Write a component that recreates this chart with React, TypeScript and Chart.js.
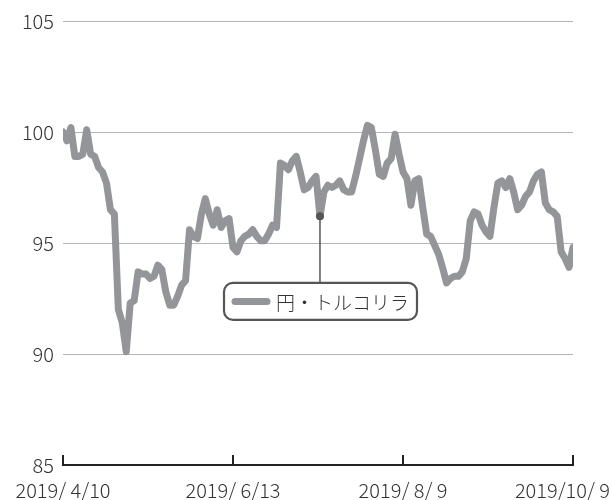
import React, { useEffect, useRef } from "react";
import { Chart, registerables } from "chart.js";

Chart.register(...registerables);

// 円・トルコリラ (index-based trading days)
const seriesName = "円・トルコリラ";
const values: number[] = [
  100.0, 99.6, 100.2, 98.9, 98.9, 99.0, 100.1, 99.0, 98.9, 98.4,
  98.2, 97.7, 96.5, 96.3, 92.0, 91.4, 90.1, 92.3, 92.4, 93.7,
  93.6, 93.6, 93.4, 93.5, 94.0, 93.8, 92.8, 92.2, 92.2, 92.6,
  93.1, 93.3, 95.6, 95.3, 95.2, 96.3, 97.0, 96.3, 95.8, 96.5,
  95.7, 96.0, 96.1, 94.8, 94.6, 95.1, 95.3, 95.4, 95.6, 95.3,
  95.1, 95.1, 95.4, 95.8, 95.7, 98.6, 98.5, 98.3, 98.7, 98.9,
  98.2, 97.4, 97.5, 97.8, 98.0, 96.2, 97.3, 97.6, 97.5, 97.6,
  97.8, 97.4, 97.3, 97.3, 98.0, 98.8, 99.6, 100.3, 100.2, 99.2,
  98.1, 98.0, 98.6, 98.8, 99.9, 99.0, 98.2, 97.9, 96.7, 97.8,
  97.9, 96.6, 95.4, 95.3, 94.9, 94.5, 93.9, 93.2, 93.4, 93.5,
  93.5, 93.7, 94.3, 96.0, 96.4, 96.3, 95.8, 95.5, 95.3, 96.6,
  97.7, 97.8, 97.5, 97.9, 97.3, 96.5, 96.7, 97.1, 97.3, 97.8,
  98.1, 98.2, 96.8, 96.5, 96.4, 96.2, 94.6, 94.3, 93.9, 94.8,
];
const tickIndices: number[] = [0, 43, 86, 129];
const tickLabels: string[] = ["2019/ 4/10", "2019/ 6/13", "2019/ 8/ 9", "2019/10/ 9"];
const yTicks: number[] = [85, 90, 95, 100, 105];
const calloutIndex = 65;

const FONT = "'Noto Sans CJK JP', 'Noto Sans', sans-serif";
const LINE_COLOR = "#939598";
const DARK = "#555555";
const TEXT = "#333333";

const overlayPlugin = {
  id: "overlay",
  afterDraw(chart: any) {
    const ctx = chart.ctx;
    const xs = chart.scales.x;
    const ys = chart.scales.y;
    const area = chart.chartArea;
    ctx.save();
    // x-axis ticks (pointing up) and labels
    ctx.strokeStyle = "#222";
    ctx.lineWidth = 2;
    ctx.font = `300 20px ${FONT}`;
    ctx.fillStyle = TEXT;
    ctx.textBaseline = "middle";
    tickIndices.forEach((ti, k) => {
      const px = Math.round(xs.getPixelForValue(ti));
      ctx.beginPath();
      ctx.moveTo(px, area.bottom + 1);
      ctx.lineTo(px, area.bottom - 10);
      ctx.stroke();
      const label = tickLabels[k];
      if (k === tickIndices.length - 1) {
        ctx.textAlign = "right";
        ctx.fillText(label, chart.width - 2, area.bottom + 25);
      } else {
        ctx.textAlign = "center";
        ctx.fillText(label, px, area.bottom + 25);
      }
    });
    // callout
    const cx = xs.getPixelForValue(calloutIndex);
    const cy = ys.getPixelForValue(values[calloutIndex]);
    const boxTop = ys.getPixelForValue(93.2);
    const boxBottom = boxTop + 37;
    const boxLeft = 224;
    const boxRight = 417;
    ctx.strokeStyle = DARK;
    ctx.lineWidth = 1.5;
    ctx.beginPath();
    ctx.moveTo(cx, cy);
    ctx.lineTo(cx, boxTop);
    ctx.stroke();
    ctx.fillStyle = DARK;
    ctx.beginPath();
    ctx.arc(cx, cy, 4, 0, Math.PI * 2);
    ctx.fill();
    // legend box
    ctx.fillStyle = "#ffffff";
    ctx.strokeStyle = DARK;
    ctx.lineWidth = 2.2;
    ctx.beginPath();
    (ctx as any).roundRect(boxLeft, boxTop, boxRight - boxLeft, boxBottom - boxTop, 9);
    ctx.fill();
    ctx.stroke();
    const midY = (boxTop + boxBottom) / 2;
    ctx.strokeStyle = LINE_COLOR;
    ctx.lineWidth = 7;
    ctx.lineCap = "round";
    ctx.beginPath();
    ctx.moveTo(235, midY);
    ctx.lineTo(267, midY);
    ctx.stroke();
    ctx.fillStyle = TEXT;
    ctx.textAlign = "left";
    ctx.textBaseline = "middle";
    ctx.font = `300 19px ${FONT}`;
    ctx.fillText(seriesName, 276, midY + 1);
    ctx.restore();
  },
};

export default function App() {
  const ref = useRef<HTMLCanvasElement | null>(null);
  useEffect(() => {
    if (!ref.current) return;
    const chart = new Chart(ref.current, {
      type: "line",
      data: {
        datasets: [
          {
            label: seriesName,
            data: values.map((v, i) => ({ x: i, y: v })),
            borderColor: LINE_COLOR,
            borderWidth: 7,
            pointRadius: 0,
            tension: 0,
            borderJoinStyle: "round",
            borderCapStyle: "round",
          },
        ],
      },
      options: {
        animation: false,
        responsive: true,
        maintainAspectRatio: false,
        layout: { padding: { top: 20, right: 39, left: 0, bottom: 0 } },
        plugins: { legend: { display: false }, tooltip: { enabled: false } },
        scales: {
          x: {
            type: "linear",
            min: 0,
            max: values.length - 1,
            grid: { display: false, drawTicks: false },
            border: { display: true, color: "#222", width: 2 },
            ticks: { display: false },
            afterFit: (s: any) => {
              s.height = 35;
              s.paddingLeft = 0;
              s.paddingRight = 0;
            },
          },
          y: {
            min: 85,
            max: 105,
            afterBuildTicks: (s: any) => {
              s.ticks = yTicks.map((v) => ({ value: v }));
            },
            grid: { color: "#b5b5b5", lineWidth: 1, drawTicks: false },
            border: { display: false },
            ticks: {
              padding: 9,
              color: TEXT,
              font: { family: FONT, size: 20, weight: "300" },
            },
            afterFit: (s: any) => {
              s.width = 63;
            },
          },
        },
      },
      plugins: [overlayPlugin],
    });
    return () => chart.destroy();
  }, []);
  return (
    <div style={{ position: "absolute", left: 0, top: 0, width: 612, height: 500 }}>
      <canvas ref={ref} />
    </div>
  );
}
